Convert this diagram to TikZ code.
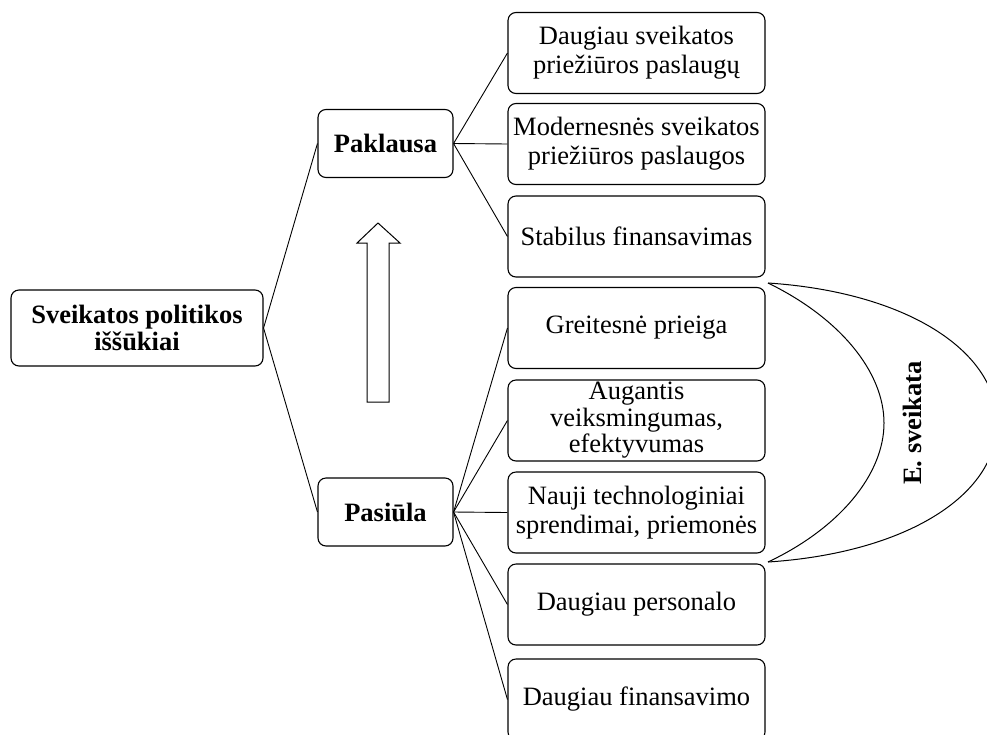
\documentclass[tikz,border=0pt]{standalone}
\usepackage{fontspec}
\setmainfont{Liberation Serif}
\begin{document}
\begin{tikzpicture}[x=1pt,y=-1pt,
  box/.style={draw, rounded corners=8pt, line width=1.1pt, align=center, inner sep=0pt,
    font=\fontsize{26.5}{29}\selectfont},
  rbox/.style={box, minimum width=257pt, minimum height=81pt},
  mbox/.style={box, minimum width=135pt, minimum height=68pt, font=\fontsize{26.5}{29}\selectfont\bfseries},
  conn/.style={line width=0.9pt}]
\useasboundingbox (0,0) rectangle (987,734);
\node[box, minimum width=252pt, minimum height=76pt, font=\fontsize{26.5}{27}\selectfont\bfseries] (L) at (137,328) {Sveikatos politikos\\iššūkiai};
\node[mbox] (Pk) at (385.5,143.5) {Paklausa};
\node[mbox] (Ps) at (385.5,512) {Pasiūla};
\node[rbox] (r1) at (636.5,53) {Daugiau sveikatos\\priežiūros paslaugų};
\node[rbox] (r2) at (636.5,144) {Modernesnės sveikatos\\priežiūros paslaugos};
\node[rbox] (r3) at (636.5,236.5) {Stabilus finansavimas};
\node[rbox] (r4) at (636.5,328) {Greitesnė prieiga};
\node[rbox, font=\fontsize{26.5}{26.5}\selectfont] (r5) at (636.5,420.5) {Augantis\\veiksmingumas,\\efektyvumas};
\node[rbox] (r6) at (636.5,512.5) {Nauji technologiniai\\sprendimai, priemonės};
\node[rbox] (r7) at (636.5,604.5) {Daugiau personalo};
\node[rbox] (r8) at (636.5,699.5) {Daugiau finansavimo};
\draw[conn] (L.east) -- (Pk.west);
\draw[conn] (L.east) -- (Ps.west);
\foreach \r in {r1,r2,r3} \draw[conn] (Pk.east) -- (\r.west);
\foreach \r in {r4,r5,r6,r7,r8} \draw[conn] (Ps.east) -- (\r.west);
% hollow up arrow
\draw[line width=1pt] (367,402) -- (367,243) -- (357,243) -- (378,223) -- (400,243) -- (389,243) -- (389,402) -- cycle;
% E. sveikata lens
\coordinate (a1) at (768,283);
\coordinate (a2) at (768,562);
\draw[line width=1pt] (a1) .. controls (840,318) and (884,372) .. (884,423)
  .. controls (884,474) and (840,528) .. (a2);
\draw[line width=1pt] (a1) .. controls (905,292) and (997,350) .. (997,423)
  .. controls (997,496) and (905,553) .. (a2);
\node[rotate=90, font=\fontsize{26.5}{29}\selectfont\bfseries] (E) at (912,423) {E. sveikata};
\end{tikzpicture}
\end{document}
